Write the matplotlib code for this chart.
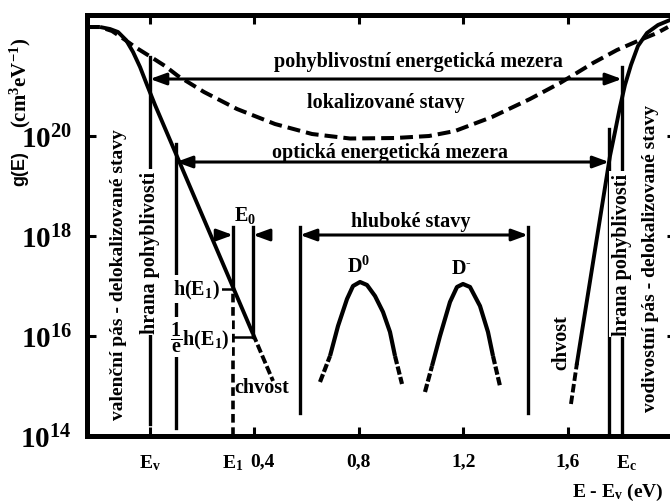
import numpy as np
import matplotlib
matplotlib.use('Agg')
import matplotlib.pyplot as plt
from matplotlib.ticker import NullLocator, FixedLocator
from matplotlib.transforms import ScaledTranslation

plt.rcParams['font.family'] = ['Liberation Serif', 'DejaVu Serif']
plt.rcParams['font.weight'] = 'bold'
plt.rcParams['mathtext.fontset'] = 'custom'
plt.rcParams['mathtext.rm'] = 'Liberation Serif:bold'
plt.rcParams['mathtext.it'] = 'Liberation Serif:bold'
plt.rcParams['mathtext.bf'] = 'Liberation Serif:bold'

# ---------------- data: E - Ev (eV) and log10 g(E) (cm^-3 eV^-1) ----------------
valence_E    = [-0.1916, -0.1533, -0.1226, -0.0920, -0.0651, -0.0383, -0.0115, 0.0192, 0.3946]
valence_logg = [22.18, 22.14, 22.08, 21.92, 21.68, 21.38, 21.02, 20.62, 16.04]
valence_tail_E    = [0.3946, 0.4713]
valence_tail_logg = [16.04, 15.10]

localized_E = [-0.2414, -0.1916, -0.1456, -0.1111, -0.0575, 0.0038, 0.0575, 0.1073, 0.2069,
               0.3333, 0.4789, 0.6207, 0.7663, 0.9387, 1.0690, 1.1686, 1.3103, 1.4559,
               1.5709, 1.6284, 1.6973, 1.7893, 1.8774, 1.9425, 1.9847]
localized_logg = [22.18, 22.18, 22.10, 21.98, 21.78, 21.58, 21.40, 21.20, 20.88,
                  20.54, 20.24, 20.04, 19.95, 19.96, 20.00, 20.10, 20.38, 20.74,
                  21.06, 21.24, 21.46, 21.72, 21.92, 22.06, 22.18]

conduction_E    = [1.6360, 1.7625, 1.7816, 1.8008, 1.8199, 1.8429, 1.8697, 1.9042, 1.9464, 1.9923, 2.0307]
conduction_logg = [15.46, 19.60, 20.08, 20.58, 21.02, 21.42, 21.80, 22.06, 22.22, 22.32, 22.36]
conduction_tail_E    = [1.6130, 1.6360]
conduction_tail_logg = [14.64, 15.46]

D0_E    = [0.6513, 0.6897, 0.7203, 0.7548, 0.7778, 0.8046, 0.8314, 0.8621, 0.8927, 0.9195, 0.9387, 0.9655]
D0_logg = [15.08, 15.60, 16.20, 16.74, 17.00, 17.08, 17.02, 16.80, 16.48, 16.08, 15.60, 15.04]
Dm_E    = [1.0536, 1.0805, 1.1111, 1.1494, 1.1762, 1.1992, 1.2261, 1.2644, 1.2950, 1.3142, 1.3410]
Dm_logg = [14.88, 15.40, 16.00, 16.68, 16.98, 17.04, 16.98, 16.60, 16.08, 15.60, 15.00]

# characteristic energies (eV)
E_v = 0.0
E_opt_v = 0.100
E_1 = 0.318
E_1_E0 = 0.395
deep_lo = 0.575
deep_hi = 1.448
E_opt_c = 1.759
E_c = 1.808

# levels (log10 g)
g_mob_arrow = 21.14
g_opt_arrow = 19.48
g_deep_arrow = 18.02
g_hE1 = 16.94
g_hE1_e = 15.98

x_ticks = [0.0, 0.4, 0.8, 1.2, 1.6]
x_ticklabels = [r'E$_\mathregular{v}$', '0,4', '0,8', '1,2', '1,6']
y_ticks = [1e14, 1e16, 1e18, 1e20]
y_ticklabels = [r'$10^{14}$', r'$10^{16}$', r'$10^{18}$', r'$10^{20}$']

# ---------------- figure ----------------
fig = plt.figure(figsize=(6.7, 5.02), dpi=100)
ax = fig.add_axes([0.1299, 0.1295, 0.879, 0.8386])
ax.set_yscale('log')
ax.set_xlim(-0.2414, 2.0153)
ax.set_ylim(1e14, 10 ** 22.42)

def G(v):
    return 10 ** np.asarray(v, dtype=float)

K = 'black'
LW = 2.8
DASH = (0, (3.2, 1.5))

ax.plot(valence_E, G(valence_logg), color=K, lw=LW, solid_capstyle='butt')
ax.plot(valence_tail_E, G(valence_tail_logg), color=K, lw=LW, ls=(0, (2.2, 0.8)))
ax.plot(localized_E, G(localized_logg), color=K, lw=2.9, ls=DASH)
ax.plot(conduction_E, G(conduction_logg), color=K, lw=LW)
ax.plot(conduction_tail_E, G(conduction_tail_logg), color=K, lw=LW, ls=(0, (2.2, 0.8)))

for Ex, Lx in ((D0_E, D0_logg), (Dm_E, Dm_logg)):
    ax.plot(Ex[1:-1], G(Lx[1:-1]), color=K, lw=3.0, solid_capstyle='butt')
    ax.plot(Ex[:2], G(Lx[:2]), color=K, lw=3.0, ls=(0, (2.0, 0.6)))
    ax.plot(Ex[-2:], G(Lx[-2:]), color=K, lw=3.0, ls=(0, (2.0, 0.6)))

VLW = 2.4
def vline(x, l0, l1, **kw):
    ax.plot([x, x], G([l0, l1]), color=K, lw=kw.pop('lw', VLW), **kw)

vline(E_v, 14.24, 21.58)
vline(E_opt_v, 14.16, 19.84)
vline(E_1, g_hE1, 18.18)
vline(E_1, 14.0, g_hE1, ls=(0, (2.4, 1.3)), lw=2.6)
vline(E_1_E0, g_hE1_e, 18.18)
vline(deep_lo, 14.46, 18.18)
vline(deep_hi, 14.46, 18.18)
vline(E_opt_c, 14.0, 20.14)
vline(E_c, 14.0, 21.38)

ax.plot([0.268, E_1], G([g_hE1, g_hE1]), color=K, lw=1.8)
ax.plot([0.3065, E_1_E0], G([g_hE1_e, g_hE1_e]), color=K, lw=1.8)

AST2 = '<|-|>,head_length=0.6,head_width=0.22'
AST1 = '-|>,head_length=0.6,head_width=0.22'
def arrow(x1, x2, L, style):
    ax.annotate('', xy=(x2, 10 ** L), xytext=(x1, 10 ** L),
                arrowprops=dict(arrowstyle=style, lw=2.2, color=K, shrinkA=0, shrinkB=0,
                                mutation_scale=16))

arrow(E_v, E_c, g_mob_arrow, AST2)
arrow(E_opt_v, E_opt_c, g_opt_arrow, AST2)
arrow(deep_lo, deep_hi, g_deep_arrow, AST2)
arrow(E_1 - 0.062, E_1, g_deep_arrow, AST1)
arrow(E_1_E0 + 0.066, E_1_E0, g_deep_arrow, AST1)

FS = 14.5
wb = dict(boxstyle='square,pad=0.12', fc='white', ec='none')
ax.text(1.027, 10 ** 21.50, 'pohyblivostní energetická mezera', fontsize=FS, ha='center', va='center')
ax.text(0.904, 10 ** 20.68, 'lokalizované stavy', fontsize=FS, ha='center', va='center')
ax.text(0.920, 10 ** 19.68, 'optická energetická mezera', fontsize=FS, ha='center', va='center')
ax.text(1.000, 10 ** 18.30, 'hluboké stavy', fontsize=FS, ha='center', va='center')
ax.text(0.364, 10 ** 18.44, r'E$_\mathregular{0}$', fontsize=FS, ha='center', va='center')
ax.text(0.266, 10 ** g_hE1, r'h(E$_\mathregular{1}$)', fontsize=FS, ha='right', va='center', bbox=wb, zorder=5)
ax.text(0.304, 10 ** g_hE1_e, r'$\dfrac{1}{e}$h(E$_\mathregular{1}$)', fontsize=FS, ha='right', va='center', bbox=wb, zorder=5)
ax.text(0.429, 10 ** 14.98, 'chvost', fontsize=FS, ha='center', va='center')
ax.text(0.800, 10 ** 17.40, r'D$^\mathregular{0}$', fontsize=FS, ha='center', va='center')
ax.text(1.195, 10 ** 17.36, r'D$^{\text{-}}$', fontsize=FS, ha='center', va='center')
ax.text(1.575, 10 ** 15.88, 'chvost', fontsize=FS, ha='center', va='center', rotation=90)
ax.text(E_v, 10 ** 17.68, 'hrana pohyblivosti', fontsize=FS, ha='center', va='center', rotation=90, bbox=wb, zorder=5)
ax.text(-0.1226, 10 ** 17.24, 'valenční pás - delokalizované stavy', fontsize=14, ha='center', va='center', rotation=90)
ax.text(E_c, 10 ** 17.64, 'hrana pohyblivosti', fontsize=FS, ha='center', va='center', rotation=90, bbox=wb, zorder=5)
ax.text(1.916, 10 ** 17.58, 'vodivostní pás - delokalizované stavy', fontsize=14, ha='center', va='center', rotation=90)

# axes styling
for s in ax.spines.values():
    s.set_linewidth(3.6)
ax.tick_params(which='major', direction='in', length=6.5, width=2.2, top=True, right=True,
               labelsize=14, pad=12)
ax.xaxis.set_major_locator(FixedLocator(x_ticks))
ax.set_xticklabels(x_ticklabels)
ax.xaxis.set_minor_locator(FixedLocator([E_1, E_c]))
ax.set_xticklabels([r'E$_\mathregular{1}$', r'E$_\mathregular{c}$'], minor=True)
ax.tick_params(axis='x', which='minor', length=0, labelsize=14, pad=12, top=False)
ax.yaxis.set_major_locator(FixedLocator(y_ticks))
ax.yaxis.set_minor_locator(NullLocator())
ax.set_yticklabels(y_ticklabels)
ax.tick_params(axis='y', which='major', labelsize=21, pad=11)

xl = ax.get_xticklabels()
xl[1].set_transform(xl[1].get_transform() + ScaledTranslation(8 / 100, 0, fig.dpi_scale_trans))
ml = ax.get_xticklabels(minor=True)
ml[1].set_transform(ml[1].get_transform() + ScaledTranslation(5 / 100, 0, fig.dpi_scale_trans))

fig.text(0.99, 0.02, r'E - E$_\mathregular{v}$ (eV)', fontsize=14, ha='right', va='center')
fig.text(0.030, 0.665, 'g(E)', rotation=90, fontsize=13, fontfamily='Liberation Sans',
         fontweight='bold', ha='center', va='center')
fig.text(0.030, 0.835, r'(cm$^\mathregular{3}$eV$^\mathregular{-1}$)', rotation=90, fontsize=15,
         ha='center', va='center')

fig.savefig('out.png', dpi=100)
